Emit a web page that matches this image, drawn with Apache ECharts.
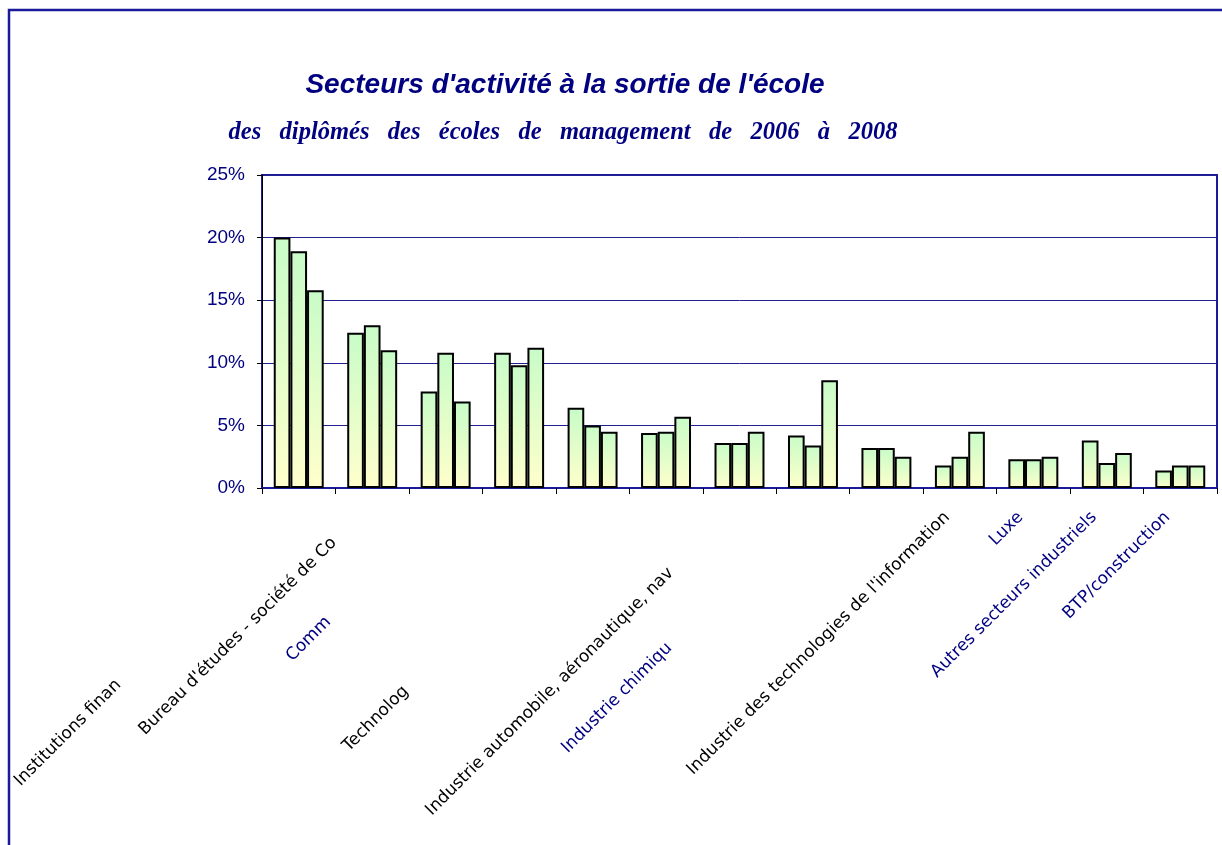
<!DOCTYPE html>
<html>
<head>
    <meta charset="UTF-8">
    <title>Secteurs d'activité à la sortie de l'école</title>
    <script src="https://cdn.jsdelivr.net/npm/echarts@6/dist/echarts.min.js"></script>
    <style>
        html, body { margin: 0; padding: 0; background: #fff; }
        #main { width: 1222px; height: 845px; }
    </style>
</head>
<body>
<div id="main"></div>
<script type="text/javascript">

    // libellés tels qu'ils apparaissent (tronqués) sous l'axe
    var categories = [
        'Institutions finan',
        "Bureau d'études - société de Co",
        'Comm',
        '',
        'Technolog',
        '',
        'Industrie automobile, aéronautique, nav',
        'Industrie chimiqu',
        '',
        "Industrie des technologies de l'information",
        'Luxe',
        'Autres secteurs industriels',
        'BTP/construction'
    ];

    var years = ['2006', '2007', '2008'];
    var values2006 = [20.0, 12.4, 7.7, 10.8, 6.4, 4.4, 3.6, 4.2, 3.2, 1.8, 2.3, 3.8, 1.4];
    var values2007 = [18.9, 13.0, 10.8, 9.8, 5.0, 4.5, 3.6, 3.4, 3.2, 2.5, 2.3, 2.0, 1.8];
    var values2008 = [15.8, 11.0, 6.9, 11.2, 4.5, 5.7, 4.5, 8.6, 2.5, 4.5, 2.5, 2.8, 1.8];

    var yTicks = [0, 5, 10, 15, 20, 25];

    // décalage le long de la diagonale et couleur de chaque libellé
    var labelShift = [255, 54, 166, 0, 264, 0, 97, 203, 0, 18, 18, 18, 18];
    var labelBlue = [false, false, true, false, false, false, false, true, false, false, true, true, true];

    var navy = '#000080';
    var frame = '#1a1a9a';

    var axisData = categories.map(function (name, i) {
        return {
            value: name,
            textStyle: {
                color: labelBlue[i] ? navy : '#000',
                padding: [0, labelShift[i], 0, 0]
            }
        };
    });

    var barStyle = {
        color: new echarts.graphic.LinearGradient(0, 0, 0, 1, [
            {offset: 0, color: '#c8fcc8'},
            {offset: 1, color: '#ffffcc'}
        ]),
        borderColor: '#000',
        borderWidth: 2
    };

    var seriesValues = [values2006, values2007, values2008];

    var myChart = echarts.init(document.getElementById('main'));

    var option = {
        animation: false,
        backgroundColor: '#fff',
        graphic: [
            {
                type: 'rect',
                shape: {x: 9, y: 10, width: 1400, height: 1000},
                style: {fill: 'none', stroke: frame, lineWidth: 2.5},
                silent: true
            },
            {
                type: 'text',
                x: 565,
                y: 85,
                style: {
                    text: "Secteurs d'activité à la sortie de l'école",
                    font: 'italic bold 28px "Liberation Sans", Arial, sans-serif',
                    fill: navy,
                    align: 'center',
                    verticalAlign: 'middle'
                }
            },
            {
                type: 'text',
                x: 563,
                y: 133,
                style: {
                    text: 'des   diplômés   des   écoles   de   management   de   2006   à   2008',
                    font: 'italic bold 24.5px "Liberation Serif", "Times New Roman", serif',
                    fill: navy,
                    align: 'center',
                    verticalAlign: 'middle'
                }
            }
        ],
        grid: {
            left: 262,
            right: 5,
            top: 175,
            bottom: 357,
            show: true,
            borderColor: frame,
            borderWidth: 2,
            backgroundColor: 'transparent'
        },
        xAxis: {
            type: 'category',
            data: axisData,
            axisLine: {show: true, lineStyle: {color: frame, width: 2}},
            axisTick: {show: true, length: 6, lineStyle: {color: '#000'}},
            axisLabel: {
                interval: 0,
                rotate: 45,
                margin: 14,
                fontSize: 17,
                fontFamily: '"DejaVu Sans", Verdana, sans-serif'
            },
            splitLine: {show: false}
        },
        yAxis: {
            type: 'value',
            min: yTicks[0],
            max: yTicks[yTicks.length - 1],
            interval: yTicks[1] - yTicks[0],
            axisLine: {show: true, lineStyle: {color: '#000', width: 1}},
            axisTick: {show: true, length: 5, lineStyle: {color: '#000'}},
            axisLabel: {
                formatter: '{value}%',
                color: navy,
                fontSize: 19,
                margin: 17,
                fontFamily: '"Liberation Sans", Arial, sans-serif'
            },
            splitLine: {show: true, lineStyle: {color: '#20208f', width: 1}}
        },
        series: seriesValues.map(function (vals, i) {
            return {
                name: years[i],
                type: 'bar',
                data: vals,
                barGap: '0%',
                barCategoryGap: '32%',
                itemStyle: barStyle
            };
        })
    };

    myChart.setOption(option);

</script>
</body>
</html>
